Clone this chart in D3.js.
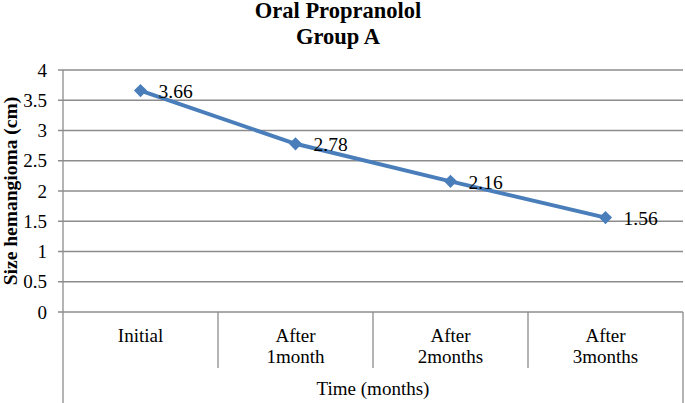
<!DOCTYPE html>
<html lang="en">
<head>
<meta charset="UTF-8">
<title>Oral Propranolol Group A</title>
<style>
    body { margin: 0; background: #fff; }
</style>
</head>
<body>
<div id="chart"></div>
<script src="https://d3js.org/d3.v7.min.js"></script>
<script>
const categories = [["Initial"], ["After", "1month"], ["After", "2months"], ["After", "3months"]];
const sizes = [3.66, 2.78, 2.16, 1.56];
const yTicks = [0, 0.5, 1, 1.5, 2, 2.5, 3, 3.5, 4];
const titleLines = ["Oral Propranolol", "Group A"];

const width = 685, height = 403;
const margin = { left: 63, right: 2, top: 70, bottom: 91 };
const plotBottom = height - margin.bottom;
const gridColor = '#8c8c8c';
const serif = '"Liberation Serif"';

const svg = d3.select('#chart').append('svg')
    .attr('width', width)
    .attr('height', height)
    .style('display', 'block');

const x = d3.scaleBand()
    .domain(d3.range(categories.length))
    .range([margin.left, width - margin.right]);

const y = d3.scaleLinear()
    .domain([0, 4])
    .range([plotBottom, margin.top]);

// gridlines + tick marks
svg.append('g').selectAll('line')
    .data(yTicks)
    .join('line')
    .attr('x1', margin.left - 5)
    .attr('x2', width - margin.right)
    .attr('y1', d => y(d))
    .attr('y2', d => y(d))
    .attr('stroke', gridColor)
    .attr('stroke-width', 1.3);

// tick labels
svg.append('g').selectAll('text')
    .data(yTicks)
    .join('text')
    .attr('x', 47)
    .attr('y', d => y(d) + 6.5)
    .attr('text-anchor', 'end')
    .style('font-family', serif)
    .style('font-size', '19px')
    .text(d => d);

// axis lines
svg.append('line')
    .attr('x1', margin.left).attr('x2', margin.left)
    .attr('y1', margin.top).attr('y2', height)
    .attr('stroke', gridColor).attr('stroke-width', 1.3);
svg.append('line')
    .attr('x1', width - margin.right).attr('x2', width - margin.right)
    .attr('y1', plotBottom).attr('y2', height)
    .attr('stroke', gridColor).attr('stroke-width', 1.3);

// category separators
svg.append('g').selectAll('line')
    .data(d3.range(1, categories.length))
    .join('line')
    .attr('x1', d => x(d)).attr('x2', d => x(d))
    .attr('y1', plotBottom).attr('y2', plotBottom + 56)
    .attr('stroke', gridColor).attr('stroke-width', 1.3);

// category labels
const cat = svg.append('g').selectAll('text')
    .data(categories)
    .join('text')
    .attr('text-anchor', 'middle')
    .style('font-family', serif)
    .style('font-size', '19px')
    .attr('transform', (d, i) => `translate(${x(i) + x.bandwidth() / 2},342)`);
cat.selectAll('tspan')
    .data(d => d)
    .join('tspan')
    .attr('x', 0)
    .attr('dy', (d, i) => i === 0 ? 0 : 21)
    .text(d => d);

// axis titles
svg.append('text')
    .attr('x', (margin.left + width - margin.right) / 2)
    .attr('y', 395)
    .attr('text-anchor', 'middle')
    .style('font-family', serif)
    .style('font-size', '19px')
    .text('Time (months)');

svg.append('text')
    .attr('transform', 'translate(17,191) rotate(-90)')
    .attr('text-anchor', 'middle')
    .style('font-family', serif)
    .style('font-size', '19.5px')
    .style('font-weight', 'bold')
    .text('Size hemangioma (cm)');

// title
svg.append('g').selectAll('text')
    .data(titleLines)
    .join('text')
    .attr('x', 338)
    .attr('y', (d, i) => 18 + i * 25.5)
    .attr('text-anchor', 'middle')
    .style('font-family', serif)
    .style('font-size', '22.5px')
    .style('font-weight', 'bold')
    .text(d => d);

// series
const cx = i => x(i) + x.bandwidth() / 2;
const line = d3.line()
    .x((d, i) => cx(i))
    .y(d => y(d));

svg.append('path')
    .datum(sizes)
    .attr('d', line)
    .attr('fill', 'none')
    .attr('stroke', '#4a7ebb')
    .attr('stroke-width', 4);

svg.append('g').selectAll('path')
    .data(sizes)
    .join('path')
    .attr('d', d3.symbol().type(d3.symbolDiamond2).size(110))
    .attr('transform', (d, i) => `translate(${cx(i)},${y(d)})`)
    .attr('fill', '#4a7ebb');

svg.append('g').selectAll('text')
    .data(sizes)
    .join('text')
    .attr('x', (d, i) => cx(i) + 18)
    .attr('y', d => y(d) + 7.5)
    .style('font-family', serif)
    .style('font-size', '19.5px')
    .text(d => d.toFixed(2));
</script>
</body>
</html>
